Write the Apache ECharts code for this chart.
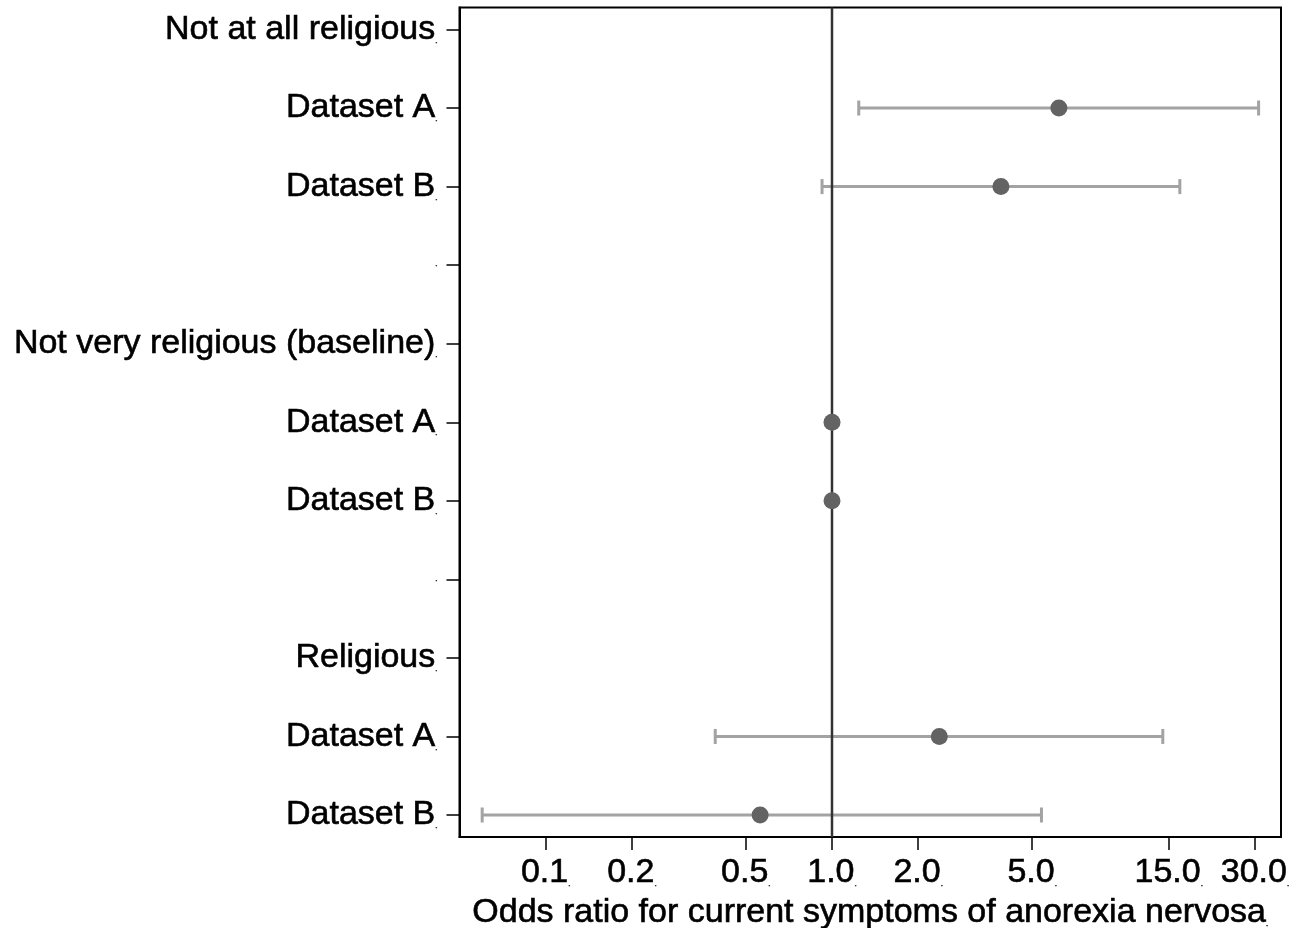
<!DOCTYPE html>
<html>
<head>
<meta charset="utf-8">
<script src="https://cdn.jsdelivr.net/npm/echarts@6/dist/echarts.min.js"></script>
<style>
  html, body { margin: 0; padding: 0; background: #ffffff; }
  #chart { width: 1305px; height: 928px; }
</style>
</head>
<body>
<div id="chart"></div>
<script>
// Row labels, top to bottom
var categories = [
  "Not at all religious", "Dataset A", "Dataset B", "",
  "Not very religious (baseline)", "Dataset A", "Dataset B", "",
  "Religious", "Dataset A", "Dataset B"
];
// Odds ratios and 95% CI bounds per row (null = no mark)
var estimates = [null, 6.20, 3.89, null, null, 1.0, 1.0, null, null, 2.37, 0.561];
var lowerCI   = [null, 1.24, 0.923, null, null, null, null, null, null, 0.391, 0.060];
var upperCI   = [null, 30.9, 16.4, null, null, null, null, null, null, 14.3, 5.39];
// X axis tick values
var xTicks = [0.1, 0.2, 0.5, 1, 2, 5, 15, 30];
var referenceValue = 1;
var xTitle = 'Odds ratio for current symptoms of anorexia nervosa';

var pointData = [];
var ciData = [];
for (var i = 0; i < categories.length; i++) {
  if (estimates[i] !== null) pointData.push([estimates[i], i + 1]);
  if (lowerCI[i] !== null) ciData.push([lowerCI[i], upperCI[i], i + 1]);
}
var yPositions = categories.map(function (c, i) { return i + 1; });

var FONT = "'Liberation Sans', Arial, sans-serif";
var textCommon = {
  fontFamily: FONT, fontSize: 34, color: '#000000',
  textBorderColor: '#000000', textBorderWidth: 0.6
};
var dotRich = { d: { fontFamily: FONT, fontSize: 8, color: '#555555', verticalAlign: 'bottom', padding: [0, 0, 2, 0] } };

var chart = echarts.init(document.getElementById('chart'), null, { renderer: 'canvas' });

chart.setOption({
  animation: false,
  backgroundColor: '#ffffff',
  grid: {
    left: 459.5, right: 24, top: 7.5, bottom: 91,
    outerBoundsMode: 'none',
    containLabel: false,
    show: true, borderColor: '#000000', borderWidth: 2, backgroundColor: 'transparent'
  },
  xAxis: {
    type: 'log',
    logBase: 10,
    min: 0.05,
    max: 37,
    name: xTitle + '{d|.}',
    nameLocation: 'middle',
    nameGap: 56,
    nameTextStyle: Object.assign({ rich: dotRich }, textCommon),
    axisLine: { show: true, lineStyle: { color: '#000000', width: 2 } },
    axisTick: { show: true, length: 13, inside: false, customValues: xTicks,
                lineStyle: { color: '#000000', width: 1.5 } },
    axisLabel: Object.assign({
      show: true,
      customValues: xTicks,
      margin: 19,
      rich: dotRich,
      formatter: function (v) { return v.toFixed(1) + '{d|.}'; }
    }, textCommon),
    splitLine: { show: false },
    minorTick: { show: false }
  },
  yAxis: {
    type: 'value',
    inverse: true,
    min: 0.72,
    max: 11.28,
    axisLine: { show: true, lineStyle: { color: '#000000', width: 2 } },
    axisTick: { show: true, length: 13, inside: false, customValues: yPositions,
                lineStyle: { color: '#000000', width: 1.5 } },
    axisLabel: Object.assign({
      show: true,
      customValues: yPositions,
      margin: 22,
      rich: dotRich,
      formatter: function (v) {
        var idx = Math.round(v) - 1;
        var t = categories[idx] !== undefined ? categories[idx] : '';
        return t + '{d|.}';
      }
    }, textCommon),
    splitLine: { show: false }
  },
  series: [
    {
      type: 'custom',
      name: 'CI',
      z: 2,
      data: ciData,
      encode: { x: [0, 1], y: 2 },
      renderItem: function (params, api) {
        var lo = api.coord([api.value(0), api.value(2)]);
        var hi = api.coord([api.value(1), api.value(2)]);
        var cap = 7.5;
        var style = { stroke: '#a3a3a3', lineWidth: 3, fill: null };
        return {
          type: 'group',
          children: [
            { type: 'line', shape: { x1: lo[0], y1: lo[1], x2: hi[0], y2: hi[1] }, style: style },
            { type: 'line', shape: { x1: lo[0], y1: lo[1] - cap, x2: lo[0], y2: lo[1] + cap }, style: style },
            { type: 'line', shape: { x1: hi[0], y1: hi[1] - cap, x2: hi[0], y2: hi[1] + cap }, style: style }
          ]
        };
      }
    },
    {
      type: 'line',
      name: 'Reference',
      z: 3,
      symbol: 'none',
      data: [[referenceValue, 0.72], [referenceValue, 11.28]],
      lineStyle: { color: '#333333', width: 2.5 }
    },
    {
      type: 'scatter',
      name: 'Odds ratio',
      z: 4,
      symbol: 'circle',
      symbolSize: 17,
      itemStyle: { color: '#636363', opacity: 1 },
      data: pointData
    }
  ]
});
</script>
</body>
</html>
